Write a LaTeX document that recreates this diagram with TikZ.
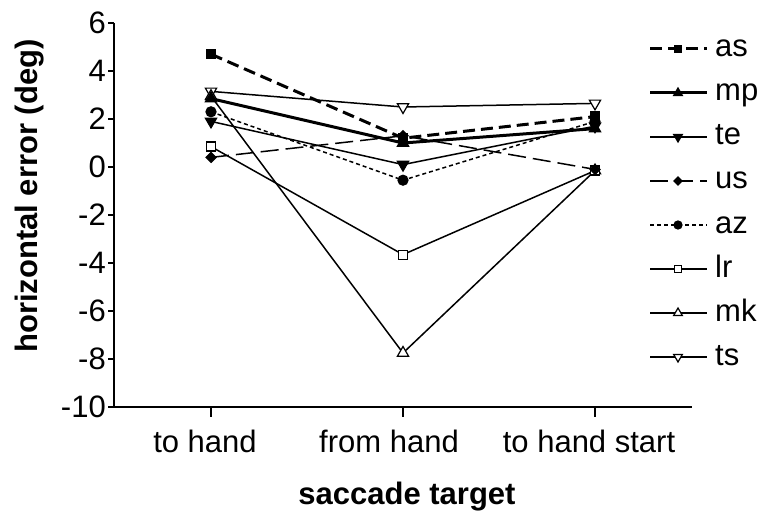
\documentclass[tikz,border=0pt]{standalone}
\usepackage{fontspec}
\setmainfont{Liberation Sans}
\usetikzlibrary{shapes.geometric}
\begin{document}
\begin{tikzpicture}[x=1pt,y=-1pt,
  txt/.style={font=\fontsize{31}{37}\selectfont, inner sep=0pt},
  btxt/.style={font=\fontsize{31}{37}\selectfont\bfseries, inner sep=0pt},
  axisln/.style={line width=1.5pt},
  mbase/.style={draw=black, line width=1.2pt, inner sep=0pt, outer sep=0pt},
  msqf/.style={mbase, rectangle, fill=black, minimum size=#1},
  msqf/.default=9pt,
  msqo/.style={mbase, rectangle, fill=white, minimum size=#1},
  msqo/.default=9pt,
  mtrif/.style={mbase, regular polygon, regular polygon sides=3, fill=black, minimum size=#1},
  mtrif/.default=13pt,
  mtrio/.style={mbase, regular polygon, regular polygon sides=3, fill=white, minimum size=#1},
  mtrio/.default=13pt,
  mtridf/.style={mtrif=#1, shape border rotate=180},
  mtridf/.default=13pt,
  mtrido/.style={mtrio=#1, shape border rotate=180},
  mtrido/.default=13pt,
  mdia/.style={mbase, diamond, fill=black, minimum size=#1},
  mdia/.default=10pt,
  mcirc/.style={mbase, circle, fill=black, minimum size=#1},
  mcirc/.default=10pt,
  thinln/.style={line width=1.5pt},
  thickln/.style={line width=3pt},
  asln/.style={line width=3pt, dash pattern=on 12pt off 6pt},
  usln/.style={line width=1.5pt, dash pattern=on 18pt off 7pt},
  azln/.style={line width=1.5pt, dash pattern=on 4pt off 3pt},
]
\useasboundingbox (0,0) rectangle (757,513);

% axes
\coordinate (ytop) at (114,23);
\coordinate (orig) at (114,407);
\coordinate (xstart) at (108,407);
\coordinate (xend) at (692,407);
\draw[axisln] (ytop) -- (orig);
\draw[axisln] (xstart) -- (xend);
\foreach \v/\nm in {6/a,4/b,2/c,0/d,-2/e,-4/f,-6/g,-8/h,-10/i}{
  \pgfmathsetmacro\yy{167-24*\v}
  \coordinate (yt\nm) at (108,\yy);
  \coordinate (ya\nm) at (114,\yy);
  \draw[axisln] (yt\nm) -- (ya\nm);
  \node[txt, anchor=east] (yl\nm) at (106,\yy) {\v};
}
\foreach \xx/\nm in {211/a,403/b,595/c}{
  \coordinate (xt\nm) at (\xx,407);
  \coordinate (xb\nm) at (\xx,417);
  \draw[axisln] (xt\nm) -- (xb\nm);
}
\node[txt, anchor=base] (cat1) at (205,452) {to hand};
\node[txt, anchor=base] (cat2) at (389,452) {from hand};
\node[txt, anchor=base] (cat3) at (589,452) {to hand start};
\node[btxt, anchor=base] (xlab) at (407,504) {saccade target};
\node[btxt, anchor=base, rotate=90] (ylab) at (37,196) {horizontal error (deg)};

% data coordinates
\foreach \s/\a/\b/\c in {as/4.7/1.2/2.1, mp/2.85/1.0/1.6, te/1.9/0.1/1.7,
    us/0.4/1.3/-0.1, az/2.3/-0.55/1.9, lr/0.85/-3.65/-0.15,
    mk/2.95/-7.75/-0.15, ts/3.15/2.5/2.65}{
  \pgfmathsetmacro\ya{167-24*\a}
  \pgfmathsetmacro\yb{167-24*\b}
  \pgfmathsetmacro\yc{167-24*\c}
  \coordinate (\s1) at (211,\ya);
  \coordinate (\s2) at (403,\yb);
  \coordinate (\s3) at (595,\yc);
}

% lines
\draw[thinln] (ts1) -- (ts2) -- (ts3);
\draw[thinln] (mk1) -- (mk2) -- (mk3);
\draw[thinln] (lr1) -- (lr2) -- (lr3);
\draw[azln] (az1) -- (az2) -- (az3);
\draw[usln] (us1) -- (us2) -- (us3);
\draw[thinln] (te1) -- (te2) -- (te3);
\draw[thickln] (mp1) -- (mp2) -- (mp3);
\draw[asln] (as1) -- (as2) -- (as3);

% markers
\foreach \i in {1,2,3}{
  \node[mtrido] (mts\i) at (ts\i) {};
  \node[mtrio] (mmk\i) at (mk\i) {};
  \node[msqo] (mlr\i) at (lr\i) {};
  \node[mcirc] (maz\i) at (az\i) {};
  \node[mdia] (mus\i) at (us\i) {};
  \node[mtridf] (mte\i) at (te\i) {};
  \node[mtrif] (mmp\i) at (mp\i) {};
  \node[msqf] (mas\i) at (as\i) {};
}

% legend
\foreach \s/\r/\ls/\mm/\sz in {as/49/asln/msqf/7pt, mp/93/thickln/mtrif/10pt,
    te/137/thinln/mtridf/10pt, us/181/usln/mdia/8pt, az/225/azln/mcirc/8pt,
    lr/269/thinln/msqo/7pt, mk/313/thinln/mtrio/10pt, ts/357/thinln/mtrido/10pt}{
  \pgfmathsetmacro\rb{\r+8}
  \coordinate (lg\s A) at (650,\r);
  \coordinate (lg\s B) at (707,\r);
  \draw[\ls] (lg\s A) -- (lg\s B);
  \node[\mm=\sz] (lgm\s) at (678,\r) {};
  \node[txt, anchor=base west] (lgt\s) at (715,\rb) {\s};
}
\end{tikzpicture}
\end{document}
